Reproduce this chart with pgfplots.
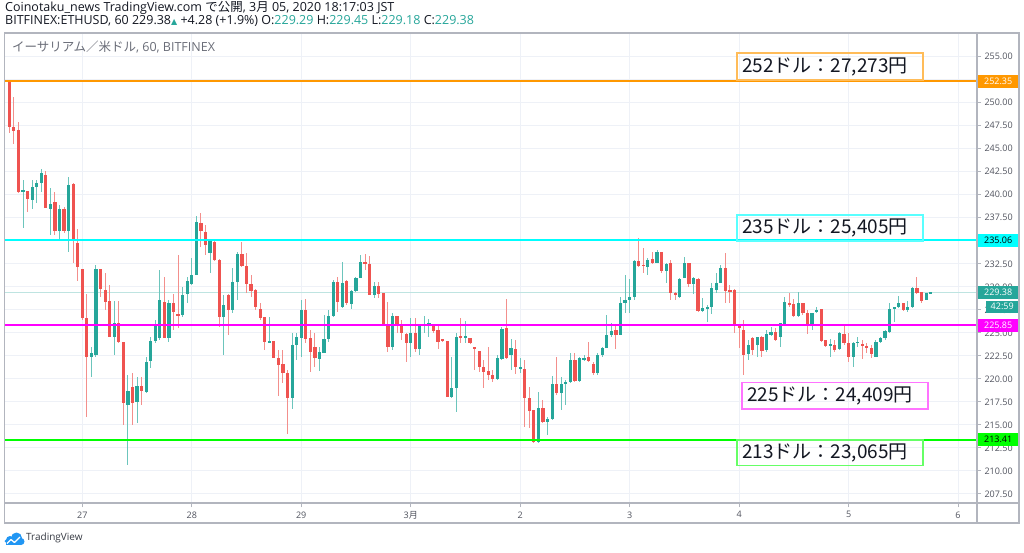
\documentclass[border=0pt]{standalone}
\usepackage{fontspec}
\setmainfont{Open Sans}
\newfontfamily\cjk{Noto Sans CJK JP}
\newfontfamily\dejavu{DejaVu Sans}
\usepackage{pgfplots}
\usepackage{pgfplotstable}
\pgfplotsset{compat=1.18}
\definecolor{up}{HTML}{26A69A}
\definecolor{dn}{HTML}{EF5350}
\definecolor{upw}{HTML}{6CC5BC}
\definecolor{dnw}{HTML}{F38F8C}
\definecolor{framec}{HTML}{B2B5BE}
\definecolor{gridc}{HTML}{EEF1F7}
\definecolor{lvor}{HTML}{FF9800}
\definecolor{lvcy}{HTML}{00FFFF}
\definecolor{lvmg}{HTML}{FF00FF}
\definecolor{lvgr}{HTML}{00FF00}
\definecolor{txt}{HTML}{131722}
\definecolor{axtxt}{HTML}{50535E}
\definecolor{ttl}{HTML}{6A6D78}
\definecolor{tvblue}{HTML}{2196F3}

\pgfplotstableread{
t o h l c
-16 252.39 252.39 246.68 247.33
-15 247.33 250.65 245.52 246.96
-14 247.04 247.94 240.16 240.33
-13 240.41 241.61 236.36 240.44
-12 240.44 240.44 238.16 239.54
-11 239.43 241.61 238.42 240.88
-10 240.88 241.61 239.07 241.31
-9 241.31 242.83 240.33 242.40
-8 242.12 242.58 238.53 238.60
-7 238.49 240.74 235.63 239.03
-6 239.25 240.33 235.63 236.07
-5 236.07 238.89 235.20 238.46
-4 238.46 238.70 235.82 236.07
-3 236.07 241.90 233.82 241.03
-2 241.17 241.25 232.62 235.01
-1 234.73 236.25 230.67 232.12
0 231.97 231.97 226.40 226.58
1 226.58 229.22 215.89 222.41
2 222.34 223.50 220.24 222.78
3 222.60 232.34 222.41 231.97
4 231.97 231.97 228.93 229.77
5 229.66 231.47 227.48 228.35
6 228.46 230.20 224.58 224.58
7 224.58 228.46 222.60 226.04
8 226.04 228.46 223.87 224.04
9 224.04 224.04 214.99 217.35
10 217.16 220.42 210.65 218.69
11 219.09 220.67 214.99 217.41
12 217.46 220.24 215.18 219.26
13 219.26 220.24 217.16 218.72
14 218.54 222.41 218.44 221.80
15 221.94 224.58 221.15 224.12
16 224.12 226.40 223.87 225.75
17 224.47 231.83 224.23 228.57
18 228.32 231.10 224.41 224.47
19 224.47 228.57 224.04 228.28
20 228.21 229.22 225.31 227.27
21 227.05 233.46 225.49 226.91
22 226.94 229.95 226.76 229.11
23 229.22 231.03 228.21 230.60
24 230.31 233.10 230.20 231.29
25 231.29 237.69 231.29 237.01
26 236.90 237.99 234.36 236.10
27 235.92 236.72 233.46 234.55
28 233.71 235.09 231.47 235.01
29 234.90 235.09 232.84 232.92
30 232.92 232.99 225.67 226.69
31 226.69 229.11 222.60 228.03
32 229.08 229.19 224.77 227.48
33 227.48 232.01 227.12 230.49
34 230.49 233.82 228.57 233.57
35 233.57 234.90 232.19 232.30
36 232.23 233.64 229.30 230.31
37 230.27 231.29 228.93 229.58
38 229.66 229.73 227.48 227.84
39 227.56 228.21 226.40 226.58
40 226.69 226.76 223.14 224.04
41 223.87 226.69 223.87 224.15
42 224.15 224.15 222.24 222.30
43 222.30 223.14 218.17 221.51
44 221.58 223.14 219.52 220.61
45 220.61 220.97 214.01 217.89
46 217.89 224.95 216.73 223.68
47 223.68 224.95 222.05 224.58
48 224.41 228.57 222.41 227.48
49 227.48 228.65 223.87 224.30
50 224.41 225.31 220.78 222.95
51 223.43 224.95 221.32 222.24
52 222.13 223.50 220.89 222.92
53 222.85 226.94 222.78 224.37
54 224.30 227.48 224.04 226.83
55 226.83 230.74 226.69 230.56
56 230.49 231.10 227.30 228.39
57 227.78 232.66 227.67 230.38
58 230.67 230.74 228.03 228.21
59 228.14 229.66 227.56 229.58
60 229.58 231.10 229.47 230.93
61 230.93 233.46 230.93 232.67
62 232.67 233.53 231.83 232.45
63 232.45 233.38 229.11 229.11
64 229.11 230.56 228.75 230.09
65 230.12 230.56 228.75 229.22
66 229.30 229.30 225.85 225.93
67 225.93 228.39 222.95 223.43
68 223.43 227.19 223.14 226.83
69 226.86 226.86 224.95 225.85
70 225.78 226.40 224.23 224.95
71 224.88 224.95 221.87 223.87
72 223.93 226.58 222.41 224.95
73 225.02 226.58 222.95 223.21
74 223.21 225.85 222.60 225.75
75 225.75 226.83 224.95 225.93
76 225.85 226.47 224.58 226.04
77 225.85 225.85 224.95 225.20
78 225.31 225.85 223.21 224.04
79 224.30 224.30 224.04 224.15
80 224.15 224.15 218.00 218.07
81 218.07 222.34 217.89 218.98
82 218.98 224.95 216.43 224.58
83 224.58 226.58 223.93 224.52
84 224.44 226.32 223.87 224.66
85 224.41 224.41 223.79 223.87
86 223.43 223.43 220.97 223.28
87 223.06 223.06 220.78 221.26
88 221.26 222.05 218.98 220.78
89 220.89 223.50 219.88 220.42
90 220.39 220.97 219.70 219.99
91 219.99 222.60 219.88 222.24
92 222.13 225.61 222.05 225.39
93 225.50 228.68 222.13 222.24
94 222.60 224.30 220.97 223.39
95 223.25 224.23 220.53 221.26
96 221.15 222.24 220.61 221.26
97 221.04 222.05 214.81 217.89
98 217.89 219.15 214.63 216.55
99 216.62 216.62 213.00 213.18
100 213.18 218.61 213.00 216.81
101 216.87 217.71 215.18 215.35
102 215.28 215.89 213.91 215.61
103 215.61 220.31 215.53 219.44
104 219.44 222.41 218.25 218.43
105 218.43 220.24 216.62 219.44
106 219.44 219.88 217.16 219.69
107 219.69 222.78 219.52 222.05
108 222.05 222.78 219.69 219.80
109 219.80 222.41 219.69 222.30
110 222.13 222.60 221.94 222.30
111 222.34 223.97 221.87 221.98
112 221.62 221.87 220.42 220.67
113 220.67 222.78 220.42 222.63
114 222.63 223.50 222.41 223.32
115 223.32 226.94 223.32 224.74
116 224.74 226.04 224.58 225.20
117 225.31 225.85 223.25 224.77
118 224.77 228.93 224.77 228.28
119 228.21 231.29 227.19 228.57
120 228.57 230.82 227.12 228.93
121 228.93 232.92 228.57 232.84
122 232.84 235.27 232.12 232.30
123 232.41 234.19 231.47 232.26
124 232.19 233.10 231.29 232.95
125 232.99 233.82 232.45 232.56
126 232.56 234.00 232.56 233.82
127 233.82 233.82 231.47 231.75
128 231.72 232.56 230.45 232.48
129 232.62 232.92 228.57 229.36
130 229.30 229.47 228.57 229.11
131 228.93 230.93 228.75 230.82
132 230.99 233.21 230.93 232.56
133 232.56 232.62 230.02 230.27
134 230.27 231.10 229.22 230.99
135 230.82 230.93 227.30 227.41
136 227.41 228.75 227.30 227.67
137 227.63 227.99 226.21 227.78
138 227.78 230.38 227.05 229.84
139 229.66 231.47 229.30 230.45
140 230.45 232.37 230.38 232.01
141 232.01 233.64 228.21 229.58
142 229.66 230.20 228.21 229.47
143 229.66 229.73 224.95 225.75
144 225.75 225.75 223.32 225.60
145 225.31 226.40 220.42 222.60
146 222.70 224.23 222.05 223.68
147 224.41 224.58 222.60 223.14
148 223.68 224.58 222.41 224.52
149 224.58 224.66 222.41 223.06
150 223.14 225.31 222.95 224.84
151 224.77 225.67 224.66 225.06
152 225.06 225.49 224.15 224.23
153 224.58 226.04 223.43 226.04
154 225.96 228.93 225.85 228.39
155 228.28 229.30 227.84 228.00
156 228.10 228.65 226.69 226.83
157 226.83 229.47 226.76 228.28
158 228.21 228.28 226.94 227.19
159 227.19 227.48 224.88 225.85
160 225.85 227.12 225.31 227.12
161 227.23 227.78 227.12 227.48
162 227.56 227.56 224.04 224.15
163 224.23 224.23 223.43 223.57
164 223.57 224.30 222.34 223.76
165 223.68 224.23 222.95 223.14
166 223.21 225.13 223.14 225.02
167 224.88 225.85 223.68 223.87
168 223.93 224.95 221.87 222.41
169 222.41 224.04 221.26 223.87
170 223.87 224.58 223.50 224.04
171 223.79 224.23 222.13 223.68
172 223.50 223.87 222.85 223.43
173 223.39 223.68 222.24 222.67
174 222.41 224.23 222.34 224.04
175 224.04 224.58 223.87 224.41
176 224.41 225.31 224.23 225.20
177 225.13 228.28 225.02 227.56
178 227.56 227.84 226.21 227.84
179 227.78 229.00 227.67 228.28
180 228.28 228.28 227.37 227.48
181 227.48 228.50 227.30 227.84
182 227.84 229.95 227.67 229.84
183 229.84 231.03 229.19 229.30
184 229.47 229.47 228.21 228.49
185 228.57 229.36 228.57 229.30
186 229.29 229.45 229.18 229.38
}\candles

\pgfplotsset{
  upf/.style={x filter/.expression={\thisrow{c}>=\thisrow{o} ? \thisrow{t} : nan}},
  dnf/.style={x filter/.expression={\thisrow{c}<\thisrow{o} ? \thisrow{t} : nan}},
  candlepart/.style 2 args={draw=none, no markers, forget plot,
    error bars/y dir=both, error bars/y explicit, error bars/error mark=none,
    error bars/error bar style={line width=#2, draw=#1, solid}},
}

\begin{document}
\begin{tikzpicture}
\useasboundingbox (0pt,0pt) rectangle (1024pt,552pt);
\fill[white] (0pt,0pt) rectangle (1024pt,552pt);
\begin{axis}[
  at={(4.5pt,49pt)}, anchor=south west,
  scale only axis, width=972.5pt, height=470pt,
  xmin=-17.06, xmax=196.16, ymin=206.52, ymax=257.57,
  clip=false,
  axis line style={draw=framec, line width=1.3pt},
  xtick={0,24,48,72,96,120,144,168,192},
  xticklabels={27,28,29,{3{\cjk 月}},2,3,4,5,6},
  ytick={207.5,210,212.5,215,217.5,220,222.5,225,227.5,230,232.5,235,237.5,240,242.5,245,247.5,250,252.5,255},
  xtick pos=left, ytick pos=right, yticklabel pos=right,
  tick align=outside, major tick length=4pt,
  tick style={draw=framec, line width=1pt},
  grid=major, grid style={draw=gridc, line width=1pt},
  /pgf/number format/assume math mode=true,
  yticklabel style={font=\fontsize{9}{10}\selectfont, text=axtxt,
    /pgf/number format/.cd, fixed, fixed zerofill, precision=2, assume math mode=true},
  xticklabel style={font=\fontsize{9}{10}\selectfont, text=axtxt, yshift=-1pt},
]
% current price line
\addplot[up!30, line width=1pt, forget plot] coordinates {(-17.06,229.38) (196.16,229.38)};
% wicks
\addplot[upf, candlepart={upw}{1pt}] table[x=t, y expr={(\thisrow{h}+\thisrow{l})/2}, y error expr={(\thisrow{h}-\thisrow{l})/2}] {\candles};
\addplot[dnf, candlepart={dnw}{1pt}] table[x=t, y expr={(\thisrow{h}+\thisrow{l})/2}, y error expr={(\thisrow{h}-\thisrow{l})/2}] {\candles};
% bodies
\addplot[upf, candlepart={up}{3.2pt}] table[x=t, y expr={(\thisrow{o}+\thisrow{c})/2}, y error expr={max(abs(\thisrow{c}-\thisrow{o})/2,0.07)}] {\candles};
\addplot[dnf, candlepart={dn}{3.2pt}] table[x=t, y expr={(\thisrow{o}+\thisrow{c})/2}, y error expr={max(abs(\thisrow{c}-\thisrow{o})/2,0.07)}] {\candles};
% level lines
\addplot[lvor, line width=2pt, forget plot] coordinates {(-17.06,252.35) (196.16,252.35)};
\addplot[lvcy, line width=2pt, forget plot] coordinates {(-17.06,235.06) (196.16,235.06)};
\addplot[lvmg, line width=2pt, forget plot] coordinates {(-17.06,225.85) (196.16,225.85)};
\addplot[lvgr, line width=2pt, forget plot] coordinates {(-17.06,213.41) (196.16,213.41)};
% price scale labels
\tikzset{plab/.style={anchor=west, minimum width=42pt, minimum height=13pt, inner sep=0pt, font=\fontsize{9}{10}\selectfont}}
\node[plab, fill=lvor, text=white] at (axis cs:196.16,252.35) {252.35};
\node[plab, fill=lvcy, text=black] at (axis cs:196.16,235.06) {235.06};
\node[plab, fill=lvmg, text=white] at (axis cs:196.16,225.85) {225.85};
\node[plab, fill=lvgr, text=black] at (axis cs:196.16,213.41) {213.41};
\node[plab, fill=up, text=white] at (axis cs:196.16,229.38) {229.38};
\node[plab, fill=up, text=white, minimum width=32pt, minimum height=12pt, xshift=9pt, yshift=-14pt] at (axis cs:196.16,229.38) {42:59};
\end{axis}
\begin{scope}[x=1pt, y=1pt]
% frame
\draw[framec, line width=1.3pt] (4.5,29) rectangle (1019,519);
\draw[framec, line width=1.3pt] (977,29) -- (977,519);
\draw[framec, line width=1.3pt] (4.5,49) -- (1019,49);
% header
\node[anchor=west, inner sep=0pt, text=txt, font=\fontsize{12.5}{13}\selectfont] at (5,544) {Coinotaku\_news TradingView.com {\cjk で公開}, 3{\cjk 月} 05, 2020 18:17:03 JST};
\node[anchor=west, inner sep=0pt, text=txt, font=\fontsize{12.5}{13}\selectfont] at (5,531) {BITFINEX:ETHUSD, 60 229.38{\dejavu\fontsize{8}{9}\selectfont\textcolor{up}{▲}} +4.28 (+1.9\%) O:\textcolor{up}{229.29} H:\textcolor{up}{229.45} L:\textcolor{up}{229.18} C:\textcolor{up}{229.38}};
\node[anchor=west, inner sep=0pt, text=ttl, font=\fontsize{12.5}{13}\selectfont] at (12,505) {{\cjk イーサリアム／米ドル}, 60, BITFINEX};
% annotation boxes
\tikzset{abox/.style={line width=1.2pt}, atext/.style={anchor=west, inner sep=0pt, text=txt, font=\cjk\fontsize{19}{20}\selectfont}}
\draw[abox, draw=lvor!65!white] (737,472) rectangle (923,499);
\node[atext] at (742,485.5) {252ドル：27,273円};
\draw[abox, draw=lvcy!65!white] (737,311) rectangle (923,337);
\node[atext] at (742,324) {235ドル：25,405円};
\draw[abox, draw=lvmg!55!white] (742,143) rectangle (928,169.5);
\node[atext] at (747,156.3) {225ドル：24,409円};
\draw[abox, draw=lvgr!60!white] (737,86.5) rectangle (923,112);
\node[atext] at (742,99.3) {213ドル：23,065円};
% logo
\fill[tvblue] (10,12) circle (4);
\fill[tvblue] (16.5,14) circle (5.5);
\fill[tvblue] (21,10.5) circle (3.5);
\fill[tvblue] (6,7) rectangle (21,11);
\fill[tvblue] (6,11) circle (1.5);
\draw[white, line width=1.3pt, line join=round] (7,8.5) -- (11,12.5) -- (14.5,9.5) -- (20,15);
\node[anchor=west, inner sep=0pt, text=txt!85, font=\fontsize{10}{11}\selectfont] at (26,14) {TradingView};
\end{scope}
\end{tikzpicture}
\end{document}
